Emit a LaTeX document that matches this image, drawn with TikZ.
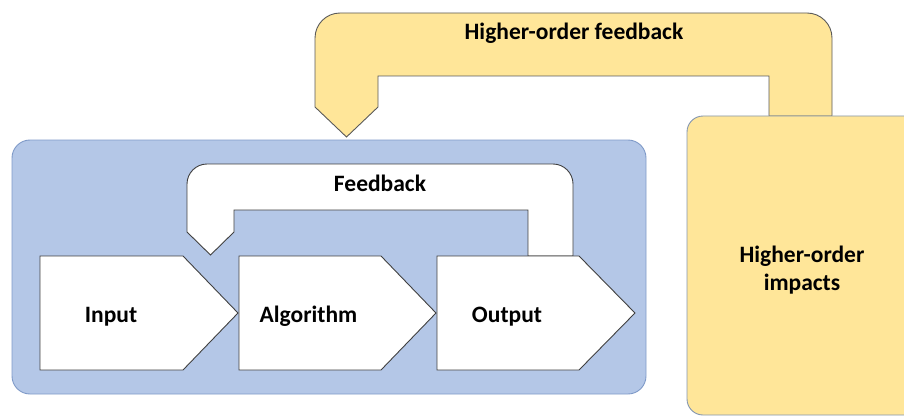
\documentclass[tikz,border=0pt]{standalone}
\usepackage{fontspec}
\setmainfont{Carlito}
\definecolor{bluefill}{HTML}{B4C7E7}
\definecolor{blueline}{HTML}{7F9AC8}
\definecolor{goldfill}{HTML}{FFE699}
\definecolor{goldline}{HTML}{5A5A5A}
\definecolor{boxline}{HTML}{8496B0}
\definecolor{darkline}{HTML}{404040}
\begin{document}
\begin{tikzpicture}[x=1pt,y=-1pt,
  lbl/.style={font=\fontsize{23.5}{27.5}\selectfont\bfseries, inner sep=0pt, anchor=base, text=black},
  bluebox/.style={fill=bluefill, draw=blueline, line width=0.9pt, rounded corners=18pt},
  goldbox/.style={fill=goldfill, draw=boxline, line width=0.9pt, rounded corners=16pt},
  goldarch/.style={fill=goldfill, draw=goldline, line width=0.9pt, line join=miter},
  whitearch/.style={fill=white, draw=darkline, line width=0.9pt, line join=miter},
  chevron/.style={fill=white, draw=darkline, line width=0.9pt, line join=miter}]
\useasboundingbox (0,0) rectangle (904,417);

% blue system box
\draw[bluebox] (12,140) rectangle (646,394);

% higher-order feedback arch
\draw[goldarch] (832,116) -- (832,38) .. controls (832,24.2) and (820.8,13) .. (807,13)
  -- (340,13) .. controls (326.2,13) and (315,24.2) .. (315,38)
  -- (315,107) -- (346.5,137) -- (378,107) -- (378,76) -- (769,76) -- (769,116) -- cycle;

% higher-order impacts box (clipped by the page edge)
\begin{scope}
  \clip (0,0) rectangle (904,417);
  \draw[goldbox] (687,116) rectangle (940,415);
\end{scope}

% feedback arch
\draw[whitearch] (573,256) -- (573,184) .. controls (573,173) and (564,164) .. (553,164)
  -- (207,164) .. controls (196,164) and (187,173) .. (187,184)
  -- (187,232) -- (210.5,255) -- (234,232) -- (234,210) -- (528,210) -- (528,256) -- cycle;

% chevrons
\draw[chevron] (40,256) -- (183,256) -- (238,313) -- (183,370) -- (40,370) -- cycle;
\draw[chevron] (239,256) -- (381,256) -- (436,313) -- (381,370) -- (239,370) -- cycle;
\draw[chevron] (437,256) -- (579,256) -- (635,313) -- (579,370) -- (437,370) -- cycle;

% labels
\node[lbl] (tin) at (111,322) {Input};
\node[lbl] (talg) at (308.5,322) {Algorithm};
\node[lbl] (tout) at (507,322) {Output};
\node[lbl] (tfb) at (380,191) {Feedback};
\node[lbl] (thof) at (574,40) {Higher-order feedback};
\node[lbl, align=center] (thoi) at (802,290) {Higher-order\\impacts};
\end{tikzpicture}
\end{document}
